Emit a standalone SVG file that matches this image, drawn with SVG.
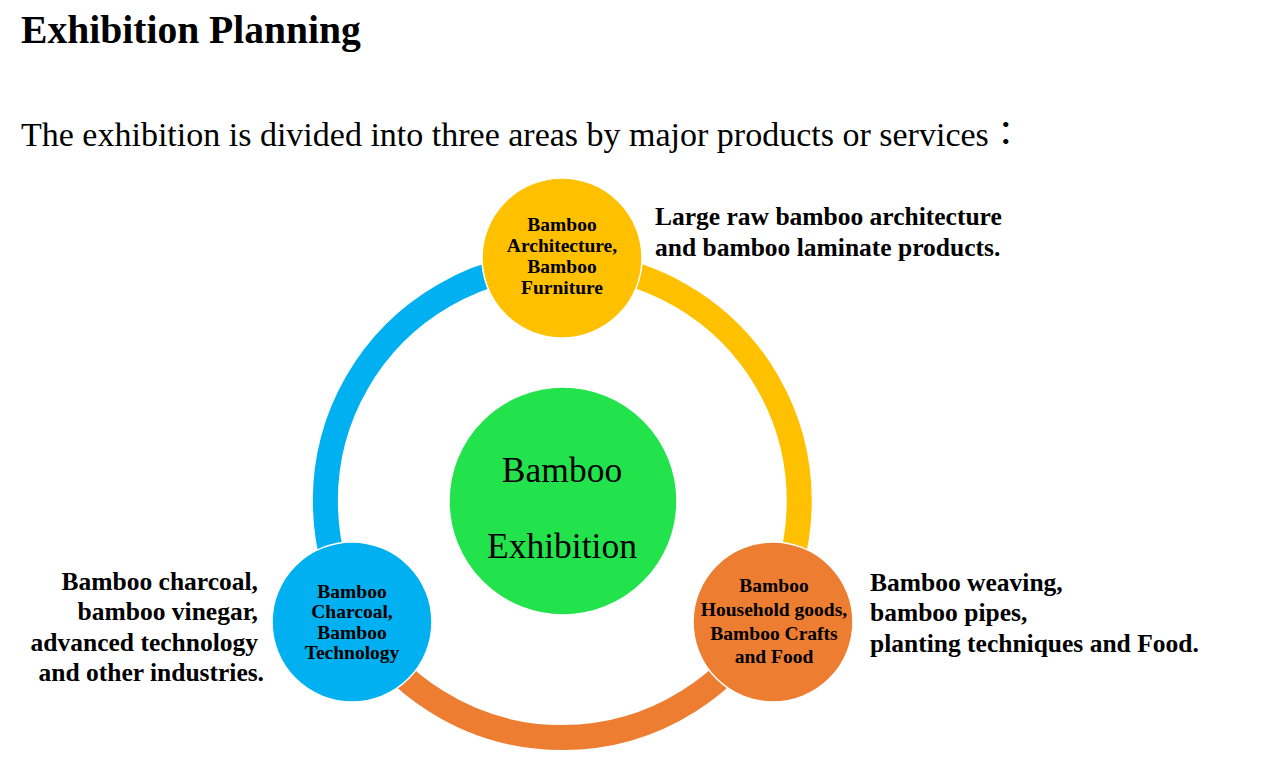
<svg xmlns="http://www.w3.org/2000/svg" width="1262" height="759" viewBox="0 0 1262 759">
<style>
.t{font-family:"Liberation Serif","Times New Roman","Noto Sans CJK TC",serif;fill:#000}
.b{font-weight:bold}
.node{stroke:#fff;stroke-width:1.5}
.n{font-size:19.5px;font-weight:bold;text-anchor:middle}
.d{font-size:25.5px;font-weight:bold}
.arc{fill:none;stroke-width:25}
.cjk{font-family:"Noto Sans CJK TC","Noto Sans CJK SC",sans-serif}
</style>
<rect width="1262" height="759" fill="#fff"/>
<text class="t b" x="21" y="43" font-size="39.6">Exhibition Planning</text>
<text class="t" x="21" y="146" font-size="34">The exhibition is divided into three areas by major products or services<tspan class="cjk">：</tspan></text>
<g id="connectors">
<path class="arc" stroke="#FFC000" d="M562.3,263.7 A237,237 0 0 1 767.5,382.2 A237,237 0 0 1 767.5,619.2"/>
<path class="arc" stroke="#ED7D31" d="M767.5,619.2 A237,237 0 0 1 357.1,619.2"/>
<path class="arc" stroke="#00B0F0" d="M357.1,619.2 A237,237 0 0 1 357.1,382.2 A237,237 0 0 1 562.3,263.7"/>
</g>
<g id="center">
<circle class="node" cx="563" cy="501" r="114" fill="#23E34C"/>
<text class="t" x="562" y="482" font-size="35.5" text-anchor="middle">Bamboo</text>
<text class="t" x="562" y="558" font-size="35.5" text-anchor="middle">Exhibition</text>
</g>
<g id="node-top">
<circle class="node" cx="562" cy="258" r="80" fill="#FFC000"/>
<text class="t n"><tspan x="562" y="231">Bamboo</tspan><tspan x="562" y="252">Architecture,</tspan><tspan x="562" y="273">Bamboo</tspan><tspan x="562" y="294">Furniture</tspan></text>
</g>
<g id="node-left">
<circle class="node" cx="352" cy="622" r="80" fill="#00B0F0"/>
<text class="t n"><tspan x="352" y="597.5">Bamboo</tspan><tspan x="352" y="618">Charcoal,</tspan><tspan x="352" y="638.5">Bamboo</tspan><tspan x="352" y="659">Technology</tspan></text>
</g>
<g id="node-right">
<circle class="node" cx="773" cy="622" r="80" fill="#ED7D31"/>
<text class="t n"><tspan x="774" y="592">Bamboo</tspan><tspan x="774" y="615.5">Household goods,</tspan><tspan x="774" y="639.5">Bamboo Crafts</tspan><tspan x="774" y="663">and Food</tspan></text>
</g>
<g id="desc-top">
<text class="t d"><tspan x="655" y="225">Large raw bamboo architecture</tspan><tspan x="655" y="256">and bamboo laminate products.</tspan></text>
</g>
<g id="desc-right">
<text class="t d"><tspan x="870" y="591">Bamboo weaving,</tspan><tspan x="870" y="621">bamboo pipes,</tspan><tspan x="870" y="652">planting techniques and Food.</tspan></text>
</g>
<g id="desc-left">
<text class="t d" text-anchor="end"><tspan x="258" y="590">Bamboo charcoal,</tspan><tspan x="258" y="620">bamboo vinegar,</tspan><tspan x="258" y="651">advanced technology</tspan><tspan x="264" y="681">and other industries.</tspan></text>
</g>
</svg>
